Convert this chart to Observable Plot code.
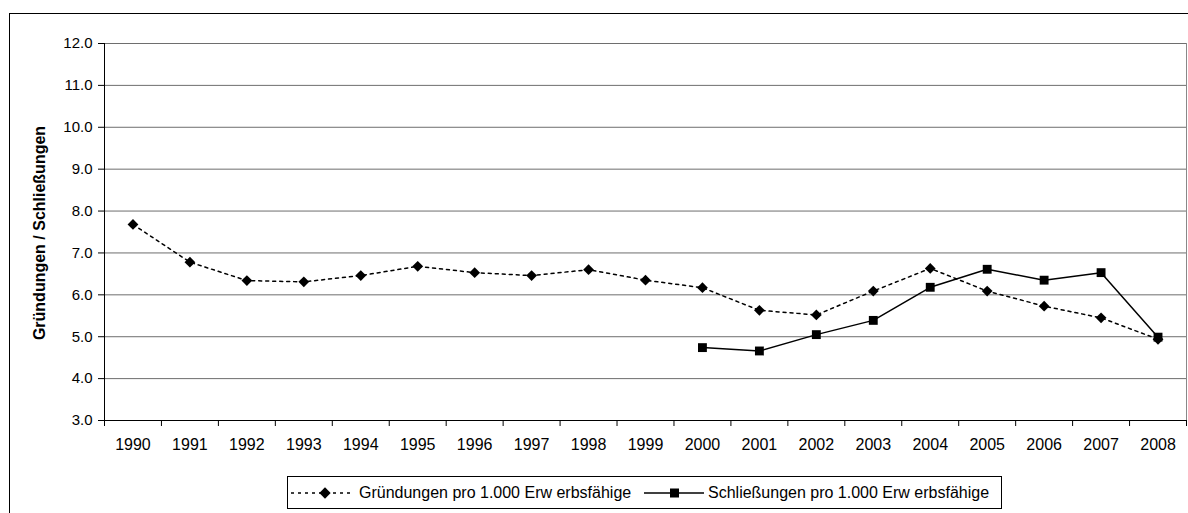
<!DOCTYPE html>
<html><head><meta charset="utf-8">
<script src="https://cdn.jsdelivr.net/npm/d3@7"></script>
<script src="https://cdn.jsdelivr.net/npm/@observablehq/plot@0.6"></script>
<style>
html,body{margin:0;padding:0;background:#fff;overflow:hidden;}
body{width:1188px;height:513px;position:relative;font-family:"Liberation Sans",Arial,sans-serif;color:#000;}
#frame{position:absolute;left:9px;top:13px;width:1178px;height:560px;border-left:1px solid #000;border-top:1px solid #000;}
#chart{position:absolute;left:0;top:0;}
#ytitle{position:absolute;left:40px;top:233px;transform:translate(-50%,-50%) rotate(-90deg);font-weight:bold;font-size:16px;white-space:nowrap;}
#legend{position:absolute;left:287px;top:476px;width:715px;height:33px;border:1px solid #000;box-sizing:border-box;background:#fff;font-size:16px;}
#legend .t{position:absolute;top:50%;transform:translateY(-50%);white-space:pre;}
#legend svg{position:absolute;top:5px;}
</style>
</head><body>
<div id="frame"></div>
<div id="chart"></div>
<div id="ytitle">Gründungen / Schließungen</div>
<div id="legend"></div>
<script>
const years = [1990,1991,1992,1993,1994,1995,1996,1997,1998,1999,2000,2001,2002,2003,2004,2005,2006,2007,2008];
const gruendungen = [7.68,6.78,6.34,6.31,6.46,6.68,6.53,6.46,6.60,6.35,6.17,5.63,5.52,6.09,6.63,6.09,5.73,5.45,4.94];
const schliessYears = [2000,2001,2002,2003,2004,2005,2006,2007,2008];
const schliessungen = [4.74,4.66,5.05,5.39,6.18,6.61,6.35,6.53,4.99];
const yTicks = [3,4,5,6,7,8,9,10,11,12];
const seriesNames = ["Gründungen pro 1.000 Erw erbsfähige", "Schließungen pro 1.000 Erw erbsfähige"];
const yTitle = "Gründungen / Schließungen";

const gData = years.map((year, i) => ({year, value: gruendungen[i]}));
const sData = schliessYears.map((year, i) => ({year, value: schliessungen[i]}));
const bounds = years.map(y => y - 0.5).concat([years[years.length - 1] + 0.5]);
const x0 = years[0] - 0.5, x1 = years[years.length - 1] + 0.5;

const chart = Plot.plot({
  width: 1188, height: 465,
  marginTop: 43, marginBottom: 45, marginLeft: 104, marginRight: 2,
  style: {fontFamily: "'Liberation Sans', Arial, sans-serif", background: "transparent", color: "#000", overflow: "visible"},
  x: {domain: [x0, x1], label: null},
  y: {domain: [yTicks[0], yTicks[yTicks.length - 1]], label: null},
  marks: [
    Plot.ruleY(yTicks.slice(1), {stroke: "#6e6e6e", strokeWidth: 1}),
    Plot.ruleX([x1], {stroke: "#888", strokeWidth: 1}),
    Plot.axisY(yTicks, {tickSize: 6, tickPadding: 6, tickFormat: d => d.toFixed(1), fontSize: 15, label: null, stroke: "#000", fill: "#000"}),
    Plot.axisX(years, {tickSize: 0, tickPadding: 18, tickFormat: d => String(d), fontSize: 16, label: null, fill: "#000"}),
    Plot.axisX(bounds, {tickSize: 6, tickFormat: () => "", label: null, stroke: "#000"}),
    Plot.ruleX([x0], {stroke: "#000", strokeWidth: 1}),
    Plot.ruleY([yTicks[0]], {stroke: "#000", strokeWidth: 1}),
    Plot.line(gData, {x: "year", y: "value", stroke: "#000", strokeWidth: 1.5, strokeDasharray: "3,4"}),
    Plot.line(sData, {x: "year", y: "value", stroke: "#000", strokeWidth: 1.5}),
    Plot.dot(gData, {x: "year", y: "value", symbol: "square", rotate: 45, r: 4.3, fill: "#000", stroke: "none"}),
    Plot.dot(sData, {x: "year", y: "value", symbol: "square", r: 5, fill: "#000", stroke: "none"})
  ]
});
document.getElementById("chart").appendChild(chart);
document.getElementById("ytitle").textContent = yTitle;

const legend = document.getElementById("legend");
legend.innerHTML = `
<svg width="64" height="22" style="left:2px"><line x1="1" y1="11" x2="63" y2="11" stroke="#000" stroke-width="1.4" stroke-dasharray="3,4"/><rect x="31" y="7" width="8" height="8" fill="#000" transform="rotate(45 35 11)"/></svg>
<span class="t" style="left:71px">${seriesNames[0]}</span>
<svg width="62" height="22" style="left:355px"><line x1="1" y1="11" x2="61" y2="11" stroke="#000" stroke-width="1.4"/><rect x="27" y="6.5" width="9" height="9" fill="#000"/></svg>
<span class="t" style="left:420px">${seriesNames[1]}</span>`;
</script>
</body></html>
